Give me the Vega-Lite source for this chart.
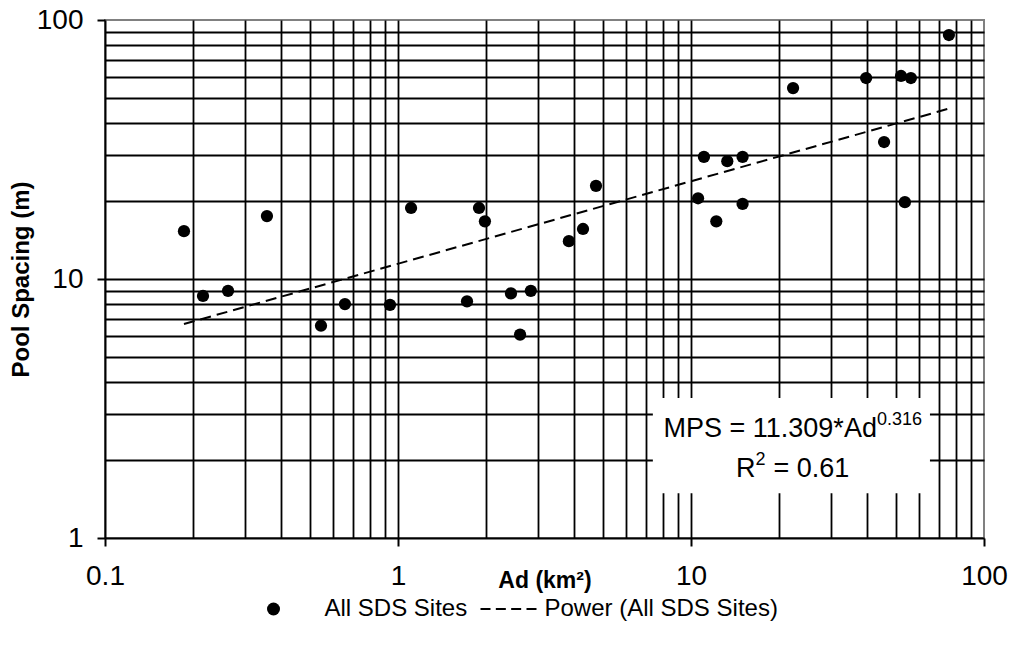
{
  "$schema": "https://vega.github.io/schema/vega-lite/v6.json",
  "width": 879,
  "height": 518,
  "autosize": "none",
  "padding": {"left": 105, "top": 20, "right": 31, "bottom": 109},
  "background": "white",
  "config": {
    "view": {"stroke": "#808080", "strokeWidth": 2},
    "font": "Liberation Sans"
  },
  "datasets": {
    "sites": [
      {"ad": 0.186, "ps": 15.3},
      {"ad": 0.216, "ps": 8.6},
      {"ad": 0.263, "ps": 9.0},
      {"ad": 0.357, "ps": 17.5},
      {"ad": 0.546, "ps": 6.6},
      {"ad": 0.659, "ps": 8.0},
      {"ad": 0.939, "ps": 7.95},
      {"ad": 1.108, "ps": 18.8},
      {"ad": 1.72, "ps": 8.2},
      {"ad": 1.89, "ps": 18.8},
      {"ad": 1.98, "ps": 16.7},
      {"ad": 2.43, "ps": 8.8},
      {"ad": 2.61, "ps": 6.1},
      {"ad": 2.84, "ps": 9.0},
      {"ad": 3.83, "ps": 14.0},
      {"ad": 4.28, "ps": 15.6},
      {"ad": 4.74, "ps": 22.9},
      {"ad": 10.57, "ps": 20.5},
      {"ad": 11.07, "ps": 29.6},
      {"ad": 12.2, "ps": 16.7},
      {"ad": 13.3, "ps": 28.5},
      {"ad": 15.0, "ps": 29.6},
      {"ad": 15.0, "ps": 19.5},
      {"ad": 22.3, "ps": 54.6},
      {"ad": 39.6, "ps": 59.7},
      {"ad": 45.6, "ps": 33.8},
      {"ad": 52.1, "ps": 60.8},
      {"ad": 53.7, "ps": 19.8},
      {"ad": 56.3, "ps": 59.7},
      {"ad": 75.9, "ps": 87.5}
    ],
    "trend": [
      {"ad": 0.186, "ps": 6.7},
      {"ad": 76, "ps": 45.5}
    ],
    "box": [
      {"x": 7.41, "x2": 65.4, "y": 1.49, "y2": 3.47}
    ],
    "mainRight": [
      {"ad": 43.1, "ps": 2.455, "t": "MPS = 11.309*Ad"},
      {"ad": 16.6, "ps": 1.72, "t": "R"}
    ],
    "sup": [
      {"ad": 43.1, "ps": 2.73, "t": "0.316"},
      {"ad": 16.6, "ps": 1.914, "t": "2"}
    ],
    "mainLeft": [
      {"ad": 19.12, "ps": 1.72, "t": "= 0.61"}
    ]
  },
  "layer": [
    {
      "data": {"name": "box"},
      "mark": {"type": "rect", "fill": "white", "stroke": null},
      "encoding": {
        "x": {
          "field": "x", "type": "quantitative",
          "scale": {"type": "log", "domain": [0.1, 100], "nice": false},
          "axis": {
            "values": [0.1,0.2,0.3,0.4,0.5,0.6,0.7,0.8,0.9,1,2,3,4,5,6,7,8,9,10,20,30,40,50,60,70,80,90,100],
            "title": "Ad (km²)",
            "format": "~g",
            "labelExpr": "indexof([0.1,1,10,100], datum.value) >= 0 ? datum.label : ''",
            "grid": true,
            "gridColor": "black",
            "gridWidth": 1.8,
            "gridOpacity": {"condition": {"test": "datum.value == 0.1 || datum.value == 100", "value": 0}, "value": 1},
            "ticks": true,
            "tickSize": 8,
            "tickColor": "black",
            "tickWidth": 2,
            "tickOpacity": {"condition": {"test": "indexof([0.1,1,10,100], datum.value) >= 0", "value": 1}, "value": 0},
            "domainColor": "black",
            "domainWidth": 2,
            "labelFont": "Liberation Sans",
            "labelFontSize": 28,
            "labelColor": "black",
            "labelPadding": 16,
            "labelFlush": false,
            "labelOverlap": false,
            "labelBound": false,
            "titleFont": "Liberation Sans",
            "titleFontSize": 23,
            "titleFontWeight": "bold",
            "titleColor": "black",
            "titleBaseline": "alphabetic",
            "titleY": 49
          }
        },
        "x2": {"field": "x2"},
        "y": {
          "field": "y", "type": "quantitative",
          "scale": {"type": "log", "domain": [1, 100], "nice": false},
          "axis": {
            "values": [1,2,3,4,5,6,7,8,9,10,20,30,40,50,60,70,80,90,100],
            "title": "Pool Spacing (m)",
            "format": "~g",
            "labelExpr": "indexof([1,10,100], datum.value) >= 0 ? datum.label : ''",
            "grid": true,
            "gridColor": "black",
            "gridWidth": 1.8,
            "gridOpacity": {"condition": {"test": "datum.value == 1 || datum.value == 100", "value": 0}, "value": 1},
            "ticks": true,
            "tickSize": 8,
            "tickColor": "black",
            "tickWidth": 2,
            "tickOpacity": {"condition": {"test": "indexof([1,10,100], datum.value) >= 0", "value": 1}, "value": 0},
            "domainColor": "black",
            "domainWidth": 2,
            "labelFont": "Liberation Sans",
            "labelFontSize": 28,
            "labelColor": "black",
            "labelPadding": 14,
            "labelFlush": false,
            "labelOverlap": false,
            "labelBound": false,
            "titleFont": "Liberation Sans",
            "titleFontSize": 24,
            "titleFontWeight": "bold",
            "titleColor": "black",
            "titleBaseline": "middle",
            "titleX": -84,
            "titleY": 259
          }
        },
        "y2": {"field": "y2"}
      }
    },
    {
      "data": {"name": "trend"},
      "mark": {"type": "line", "color": "black", "strokeWidth": 2, "strokeDash": [11, 6]},
      "encoding": {
        "x": {"field": "ad", "type": "quantitative", "scale": {"type": "log", "domain": [0.1, 100], "nice": false}},
        "y": {"field": "ps", "type": "quantitative", "scale": {"type": "log", "domain": [1, 100], "nice": false}}
      }
    },
    {
      "data": {"name": "sites"},
      "mark": {"type": "point", "filled": true, "color": "black", "size": 150, "opacity": 1},
      "encoding": {
        "x": {"field": "ad", "type": "quantitative", "scale": {"type": "log", "domain": [0.1, 100], "nice": false}},
        "y": {"field": "ps", "type": "quantitative", "scale": {"type": "log", "domain": [1, 100], "nice": false}},
        "shape": {
          "datum": "All SDS Sites",
          "scale": {
            "domain": ["All SDS Sites", "Power (All SDS Sites)"],
            "range": ["circle", "M-2,-0.17L-0.462,-0.17L-0.462,0.17L-2,0.17ZM0.359,-0.17L1.897,-0.17L1.897,0.17L0.359,0.17ZM2.718,-0.17L4.256,-0.17L4.256,0.17L2.718,0.17ZM5.077,-0.17L6.615,-0.17L6.615,0.17L5.077,0.17Z"]
          },
          "legend": {
            "title": null,
            "orient": "none",
            "legendX": 156.5,
            "legendY": 577,
            "direction": "horizontal",
            "padding": 0,
            "symbolSize": 169,
            "symbolFillColor": "black",
            "symbolStrokeWidth": 0,
            "symbolOpacity": 1,
            "labelFont": "Liberation Sans",
            "labelFontSize": 24,
            "labelColor": "black",
            "labelOffset": 39,
            "labelLimit": 500,
            "columnPadding": 13,
            "encode": {
              "symbols": {
                "update": {
                  "fill": {"value": "black"},
                  "strokeWidth": {"value": 0},
                  "opacity": {"value": 1}
                }
              }
            }
          }
        }
      }
    },
    {
      "data": {"name": "mainRight"},
      "mark": {"type": "text", "align": "right", "baseline": "alphabetic", "fontSize": 27, "font": "Liberation Sans", "color": "black"},
      "encoding": {
        "x": {"field": "ad", "type": "quantitative", "scale": {"type": "log", "domain": [0.1, 100], "nice": false}},
        "y": {"field": "ps", "type": "quantitative", "scale": {"type": "log", "domain": [1, 100], "nice": false}},
        "text": {"field": "t"}
      }
    },
    {
      "data": {"name": "sup"},
      "mark": {"type": "text", "align": "left", "baseline": "alphabetic", "fontSize": 18, "font": "Liberation Sans", "color": "black"},
      "encoding": {
        "x": {"field": "ad", "type": "quantitative", "scale": {"type": "log", "domain": [0.1, 100], "nice": false}},
        "y": {"field": "ps", "type": "quantitative", "scale": {"type": "log", "domain": [1, 100], "nice": false}},
        "text": {"field": "t"}
      }
    },
    {
      "data": {"name": "mainLeft"},
      "mark": {"type": "text", "align": "left", "baseline": "alphabetic", "fontSize": 27, "font": "Liberation Sans", "color": "black"},
      "encoding": {
        "x": {"field": "ad", "type": "quantitative", "scale": {"type": "log", "domain": [0.1, 100], "nice": false}},
        "y": {"field": "ps", "type": "quantitative", "scale": {"type": "log", "domain": [1, 100], "nice": false}},
        "text": {"field": "t"}
      }
    }
  ]
}
